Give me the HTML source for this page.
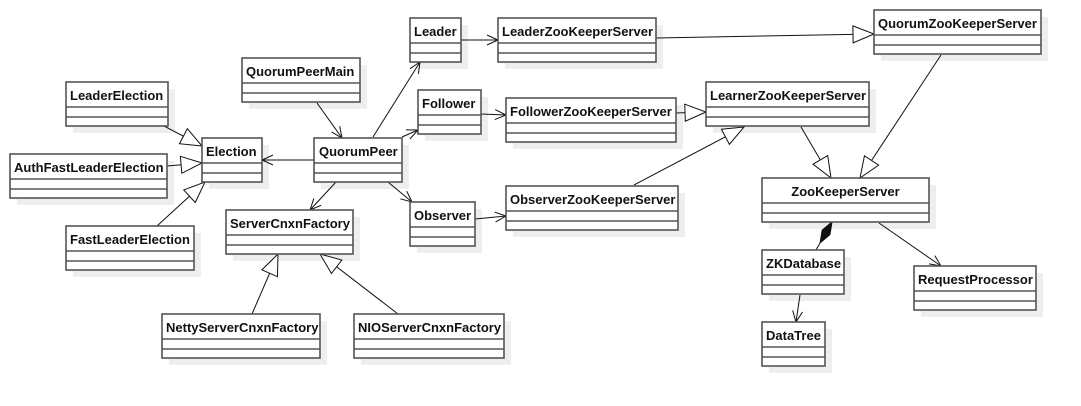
<!DOCTYPE html>
<html><head><meta charset="utf-8"><style>
html,body{margin:0;padding:0;background:#fff;}
svg{display:block;}
text{font-family:"Liberation Sans",sans-serif;font-weight:bold;font-size:13px;fill:#111;}
</style></head><body>
<svg width="1081" height="406" viewBox="0 0 1081 406" xmlns="http://www.w3.org/2000/svg">
<defs>
<marker id="tri" markerUnits="userSpaceOnUse" markerWidth="24" markerHeight="20" refX="22" refY="9.5" orient="auto">
<path d="M1,1 L22,9.5 L1,18 z" fill="#fff" stroke="#111" stroke-width="1"/></marker>
<marker id="arr" markerUnits="userSpaceOnUse" markerWidth="14" markerHeight="12" refX="12" refY="5.5" orient="auto">
<path d="M1,0.5 L12,5.5 L1,10.5" fill="none" stroke="#111" stroke-width="1"/></marker>
<marker id="dia" markerUnits="userSpaceOnUse" markerWidth="28" markerHeight="12" refX="0" refY="5" orient="auto">
<path d="M0,5 L12,0.5 L24,5 L12,9.5 z" fill="#111" stroke="#111" stroke-width="1"/></marker>
</defs>
<g fill="#eeeeee">
<rect x="73" y="89" width="102" height="44"/>
<rect x="17" y="161" width="157" height="44"/>
<rect x="209" y="145" width="60" height="44"/>
<rect x="73" y="233" width="128" height="44"/>
<rect x="249" y="65" width="118" height="44"/>
<rect x="321" y="145" width="88" height="44"/>
<rect x="233" y="217" width="127" height="44"/>
<rect x="169" y="321" width="158" height="44"/>
<rect x="361" y="321" width="150" height="44"/>
<rect x="417" y="25" width="51" height="44"/>
<rect x="425" y="97" width="63" height="44"/>
<rect x="417" y="209" width="65" height="44"/>
<rect x="505" y="25" width="158" height="44"/>
<rect x="513" y="105" width="170" height="44"/>
<rect x="513" y="193" width="172" height="44"/>
<rect x="881" y="17" width="167" height="44"/>
<rect x="713" y="89" width="163" height="44"/>
<rect x="769" y="185" width="167" height="44"/>
<rect x="769" y="257" width="82" height="44"/>
<rect x="769" y="329" width="63" height="44"/>
<rect x="921" y="273" width="122" height="44"/>
</g>
<g stroke="#111" stroke-width="1" fill="none">
<line x1="164" y1="126" x2="202" y2="146" marker-end="url(#tri)"/>
<line x1="167" y1="166" x2="202" y2="163" marker-end="url(#tri)"/>
<line x1="157" y1="226" x2="205" y2="182" marker-end="url(#tri)"/>
<line x1="314" y1="160" x2="262" y2="160" marker-end="url(#arr)"/>
<line x1="317" y1="103" x2="342" y2="138" marker-end="url(#arr)"/>
<line x1="373" y1="137" x2="420" y2="62" marker-end="url(#arr)"/>
<line x1="402" y1="137" x2="418" y2="130" marker-end="url(#arr)"/>
<line x1="388" y1="182" x2="412" y2="202" marker-end="url(#arr)"/>
<line x1="336" y1="182" x2="310" y2="210" marker-end="url(#arr)"/>
<line x1="252" y1="314" x2="278" y2="254" marker-end="url(#tri)"/>
<line x1="398" y1="314" x2="320" y2="254" marker-end="url(#tri)"/>
<line x1="461" y1="40" x2="498" y2="40" marker-end="url(#arr)"/>
<line x1="481" y1="114" x2="506" y2="115" marker-end="url(#arr)"/>
<line x1="475" y1="219" x2="506" y2="216" marker-end="url(#arr)"/>
<line x1="656" y1="38" x2="874" y2="34" marker-end="url(#tri)"/>
<line x1="676" y1="113" x2="706" y2="112" marker-end="url(#tri)"/>
<line x1="634" y1="185" x2="744" y2="127" marker-end="url(#tri)"/>
<line x1="801" y1="127" x2="831" y2="178" marker-end="url(#tri)"/>
<line x1="941" y1="55" x2="860" y2="178" marker-end="url(#tri)"/>
<line x1="832" y1="222" x2="816" y2="250" marker-start="url(#dia)"/>
<line x1="879" y1="223" x2="941" y2="266" marker-end="url(#arr)"/>
<line x1="800" y1="295" x2="796" y2="322" marker-end="url(#arr)"/>
</g>
<g fill="#fff" stroke="#555" stroke-width="1.6">
<rect x="66" y="82" width="102" height="44"/>
<rect x="10" y="154" width="157" height="44"/>
<rect x="202" y="138" width="60" height="44"/>
<rect x="66" y="226" width="128" height="44"/>
<rect x="242" y="58" width="118" height="44"/>
<rect x="314" y="138" width="88" height="44"/>
<rect x="226" y="210" width="127" height="44"/>
<rect x="162" y="314" width="158" height="44"/>
<rect x="354" y="314" width="150" height="44"/>
<rect x="410" y="18" width="51" height="44"/>
<rect x="418" y="90" width="63" height="44"/>
<rect x="410" y="202" width="65" height="44"/>
<rect x="498" y="18" width="158" height="44"/>
<rect x="506" y="98" width="170" height="44"/>
<rect x="506" y="186" width="172" height="44"/>
<rect x="874" y="10" width="167" height="44"/>
<rect x="706" y="82" width="163" height="44"/>
<rect x="762" y="178" width="167" height="44"/>
<rect x="762" y="250" width="82" height="44"/>
<rect x="762" y="322" width="63" height="44"/>
<rect x="914" y="266" width="122" height="44"/>
</g>
<g stroke="#555" stroke-width="1.6">
<path d="M66,107h102M66,117h102 M10,179h157M10,189h157 M202,163h60M202,173h60 M66,251h128M66,261h128 M242,83h118M242,93h118 M314,163h88M314,173h88 M226,235h127M226,245h127 M162,339h158M162,349h158 M354,339h150M354,349h150 M410,43h51M410,53h51 M418,115h63M418,125h63 M410,227h65M410,237h65 M498,43h158M498,53h158 M506,123h170M506,133h170 M506,211h172M506,221h172 M874,35h167M874,45h167 M706,107h163M706,117h163 M762,203h167M762,213h167 M762,275h82M762,285h82 M762,347h63M762,357h63 M914,291h122M914,301h122"/>
</g>
<text x="70" y="100">LeaderElection</text>
<text x="14" y="172">AuthFastLeaderElection</text>
<text x="206" y="156">Election</text>
<text x="70" y="244">FastLeaderElection</text>
<text x="246" y="76">QuorumPeerMain</text>
<text x="319" y="156">QuorumPeer</text>
<text x="230" y="228">ServerCnxnFactory</text>
<text x="166" y="332">NettyServerCnxnFactory</text>
<text x="358" y="332">NIOServerCnxnFactory</text>
<text x="414" y="36">Leader</text>
<text x="422" y="108">Follower</text>
<text x="414" y="220">Observer</text>
<text x="502" y="36">LeaderZooKeeperServer</text>
<text x="510" y="116">FollowerZooKeeperServer</text>
<text x="510" y="204">ObserverZooKeeperServer</text>
<text x="878" y="28">QuorumZooKeeperServer</text>
<text x="710" y="100">LearnerZooKeeperServer</text>
<text x="845.5" y="196" text-anchor="middle">ZooKeeperServer</text>
<text x="766" y="268">ZKDatabase</text>
<text x="766" y="340">DataTree</text>
<text x="918" y="284">RequestProcessor</text>
</svg>
</body></html>
